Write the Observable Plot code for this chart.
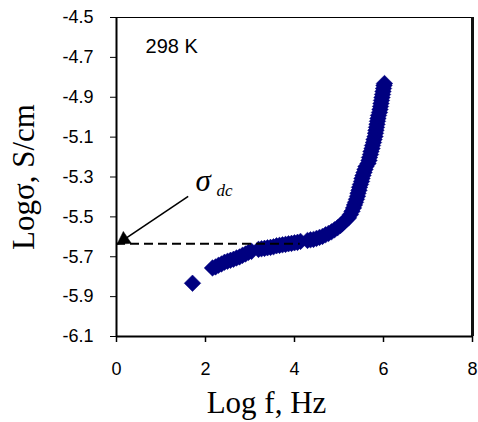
<!DOCTYPE html>
<html>
<head>
<meta charset="utf-8">
<script src="https://cdn.jsdelivr.net/npm/d3@7"></script>
<script src="https://cdn.jsdelivr.net/npm/@observablehq/plot@0.6"></script>
<style>
  html, body { margin: 0; padding: 0; background: #fff; }
</style>
</head>
<body>
<div id="chart"></div>
<script>
// Log f (Hz) and Log sigma (S/cm)
const logF = [
  1.708,
  2.157, 2.225, 2.292, 2.360, 2.427, 2.494, 2.562, 2.629, 2.697, 2.764, 2.831, 2.899, 2.966, 3.034,
  3.191, 3.258, 3.326, 3.393, 3.461, 3.528, 3.596, 3.663, 3.730, 3.798, 3.865, 3.933, 4.000, 4.067, 4.135,
  4.292, 4.360, 4.427, 4.494, 4.562, 4.629, 4.697, 4.764, 4.831, 4.899, 4.966, 5.034, 5.079, 5.124, 5.169,
  5.213, 5.258, 5.292, 5.326, 5.348, 5.371, 5.393, 5.416, 5.427, 5.449, 5.461, 5.483, 5.506, 5.517, 5.539,
  5.562, 5.584, 5.607, 5.652, 5.674, 5.685, 5.708, 5.719, 5.742, 5.753, 5.775, 5.787, 5.809, 5.820, 5.831,
  5.843, 5.854, 5.865, 5.876, 5.888, 5.910, 5.921, 5.933, 5.944, 5.955, 5.966, 5.978, 5.989, 6.000, 6.011, 6.022
];
const logSigma = [
  -5.833,
  -5.756, -5.751, -5.743, -5.736, -5.728, -5.723, -5.718, -5.713, -5.706, -5.701, -5.693, -5.686, -5.678, -5.673,
  -5.663, -5.660, -5.658, -5.655, -5.653, -5.650, -5.645, -5.643, -5.640, -5.638, -5.635, -5.633, -5.630, -5.628, -5.623,
  -5.618, -5.615, -5.613, -5.608, -5.603, -5.598, -5.590, -5.583, -5.575, -5.565, -5.555, -5.543, -5.533, -5.523, -5.513,
  -5.505, -5.488, -5.472, -5.455, -5.440, -5.427, -5.412, -5.397, -5.382, -5.367, -5.352, -5.337, -5.322, -5.307, -5.292,
  -5.277, -5.262, -5.247, -5.232, -5.217, -5.202, -5.187, -5.172, -5.157, -5.142, -5.127, -5.112, -5.097, -5.081, -5.066,
  -5.051, -5.036, -5.021, -5.006, -4.991, -4.976, -4.961, -4.946, -4.931, -4.916, -4.901, -4.886, -4.871, -4.856, -4.841, -4.831
];

const xTicks = [0, 2, 4, 6, 8];
const yTicks = [-4.5, -4.7, -4.9, -5.1, -5.3, -5.5, -5.7, -5.9, -6.1];
const xDomain = [0, 8];
const yDomain = [-6.1, -4.5];

// annotation: sigma_dc level and arrow
const sigmaDc = -5.635;
const dashedEndX = 4.13;
const arrowFrom = {x: 1.611, y: -5.397};
const arrowTo = {x: 0.015, y: -5.637};
const sigmaLabel = {x: 1.775, y: -5.372};
const tempLabel = {x: 0.652, y: -4.680, text: "298 K"};
const xLabel = "Log f, Hz";
const yLabel = "Logσ, S/cm";

const points = logF.map((x, i) => ({x, y: logSigma[i]}));

const navy = "#000080";
const serif = "'Liberation Serif', 'Times New Roman', serif";

const chart = Plot.plot({
  width: 478,
  height: 422,
  marginLeft: 116,
  marginRight: 6,
  marginTop: 17,
  marginBottom: 86,
  x: {domain: xDomain},
  y: {domain: yDomain},
  style: {fontFamily: "'Liberation Sans', Arial, sans-serif", background: "white", color: "black"},
  marks: [
    Plot.axisY({ticks: yTicks, tickSize: 6, tickPadding: 17, tickFormat: d => d.toFixed(1), fontSize: 18, label: null, strokeWidth: 1}),
    Plot.axisX({ticks: xTicks, tickSize: 6, tickPadding: 20, tickFormat: d => String(d), fontSize: 18, label: null, strokeWidth: 1.5}),
    Plot.ruleY([yDomain[1]], {stroke: "black", strokeWidth: 1}),
    Plot.ruleX([xDomain[1]], {stroke: "#111", strokeWidth: 3}),
    Plot.dot(points, {x: "x", y: "y", symbol: "square", rotate: 45, r: 6.6, fill: navy, stroke: navy, strokeWidth: 0.5}),
    Plot.ruleX([xDomain[0]], {stroke: "black", strokeWidth: 2}),
    Plot.ruleY([yDomain[0]], {stroke: "black", strokeWidth: 2}),
    Plot.ruleY([sigmaDc], {x1: xDomain[0], x2: dashedEndX, stroke: "black", strokeWidth: 2, strokeDasharray: "9,5"}),
    Plot.link([{x1: arrowFrom.x, y1: arrowFrom.y, x2: arrowTo.x, y2: arrowTo.y}], {x1: "x1", y1: "y1", x2: "x2", y2: "y2", stroke: "black", strokeWidth: 1.6}),
    Plot.dot([arrowTo], {x: "x", y: "y", symbol: "triangle", r: 5.3, rotate: 236.3, dx: 6.7, dy: -4.5, fill: "black", stroke: "black", strokeWidth: 0.5}),
    Plot.text(["σ"], {x: sigmaLabel.x, y: sigmaLabel.y, textAnchor: "start", lineAnchor: "bottom", fontSize: 31, fontStyle: "italic", fontFamily: serif, fill: "black"}),
    Plot.text(["dc"], {x: sigmaLabel.x, y: sigmaLabel.y, dx: 21, dy: 5, textAnchor: "start", lineAnchor: "bottom", fontSize: 17, fontStyle: "italic", fontFamily: serif, fill: "black"}),
    Plot.text([tempLabel], {x: "x", y: "y", text: "text", textAnchor: "start", lineAnchor: "bottom", fontSize: 20, fill: "black"}),
    Plot.text([xLabel], {frameAnchor: "bottom", textAnchor: "middle", dx: -28, dy: 76, lineAnchor: "bottom", fontSize: 31, fontFamily: serif, fill: "black"}),
    Plot.text([yLabel], {frameAnchor: "left", textAnchor: "middle", dx: -83, rotate: -90, lineAnchor: "bottom", fontSize: 31, fontFamily: serif, fill: "black"})
  ]
});
document.getElementById("chart").appendChild(chart);
</script>
</body>
</html>
